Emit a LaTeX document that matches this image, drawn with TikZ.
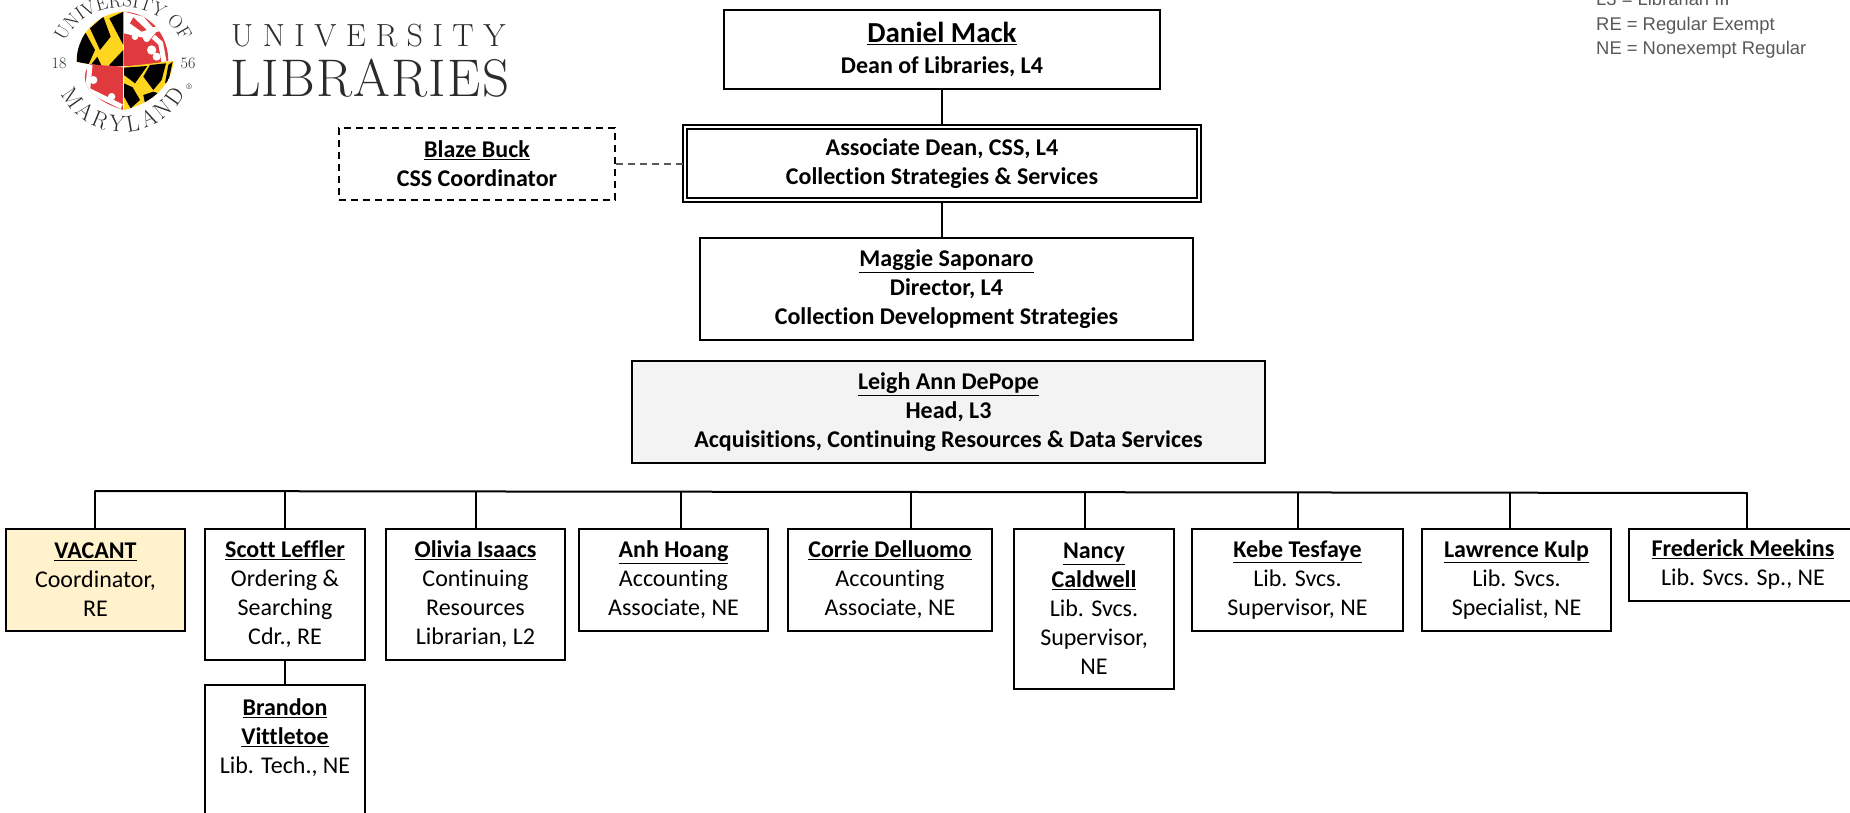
\documentclass[tikz,border=0pt]{standalone}
\usepackage{fontspec}
\usetikzlibrary{decorations.text}
\setmainfont[Ligatures=NoCommon]{Carlito}
\newfontfamily\legendfont{Liberation Sans}
\newfontfamily\logofont{Latin Modern Roman}
\newfontfamily\logospaced[LetterSpace=29.5]{Latin Modern Roman}
\newfontfamily\logotight[LetterSpace=2.3]{Latin Modern Roman}
\definecolor{legendgray}{HTML}{595959}
\definecolor{headfill}{HTML}{F3F3F3}
\definecolor{vacantfill}{HTML}{FFF2CC}
\definecolor{mdred}{HTML}{E03A3E}
\definecolor{mdgold}{HTML}{FFD520}
\definecolor{logoink}{HTML}{2B2B2B}
\newcommand{\nm}[1]{\textbf{\underline{#1}}}
\tikzset{
  x=1pt,y=-1pt,
  orgbox/.style={draw=black,line width=2pt,align=center,inner sep=0pt,font=\fontsize{24}{29}\selectfont,text=black},
  boldtext/.style={font=\fontsize{24}{29}\selectfont\bfseries},
  conn/.style={draw=black,line width=2pt},
  dashconn/.style={draw=legendgray,line width=1.6pt,dash pattern=on 7pt off 5pt},
  legend/.style={anchor=base west,inner sep=0pt,text=legendgray,font=\legendfont\fontsize{18.4}{24}\selectfont},
  sealtext/.style={inner sep=0pt,text=logoink,font=\logofont\fontsize{16}{16}\selectfont},
}
\newcommand{\bx}[6][]{\node[orgbox,minimum width=#4 pt-#3 pt,minimum height=#6 pt-#5 pt,#1] (#2) at ({(#3+#4)/2},{(#5+#6)/2})}
\begin{document}
\begin{tikzpicture}
\path[use as bounding box] (0,0) rectangle (1850,813);
\clip (0,0) rectangle (1850,813);
\fill[white] (0,0) rectangle (1850,813);
% logo seal, drawn in crop coordinates
\begin{scope}[shift={(40,0)},scale=1/3]
  % upper left
  \begin{scope}
    \clip (250,35) .. controls (170,40) and (110,105) .. (110,185) .. controls (150,195) and (200,198) .. (250,198) -- cycle;
    \fill[mdgold] (100,30) rectangle (250,200);
    \fill[black] (250,35) -- (208,55) -- (250,135) -- cycle;
    \fill[black] (190,50) -- (150,85) -- (180,150) -- (212,110) -- cycle;
    \fill[black] (135,95) -- (112,150) -- (110,190) -- (145,195) -- (165,150) -- cycle;
    \fill[black] (250,150) -- (205,198) -- (250,200) -- cycle;
    \fill[black] (172,170) -- (150,198) -- (185,198) -- cycle;
  \end{scope}
  % upper right
  \begin{scope}
    \clip (252,35) .. controls (330,38) and (385,105) .. (385,183) .. controls (340,192) and (300,198) .. (252,198) -- cycle;
    \fill[mdred] (252,30) rectangle (390,200);
    \fill[white] (252,35) -- (252,100) -- (330,118) -- (350,95) -- (310,50) -- cycle;
    \fill[mdred] (280,52) -- (320,90) -- (305,95) -- (270,70) -- cycle;
    \fill[white] (285,110) circle (10) (320,115) circle (11) (335,150) circle (14) (350,170) circle (12);
    \draw[white,line width=5pt] (335,90) -- (372,85);
    \draw[white,line width=5pt] (340,110) -- (362,130) -- (372,185);
  \end{scope}
  % lower left
  \begin{scope}
    \clip (250,200) -- (150,193) .. controls (120,225) and (125,290) .. (250,330) -- cycle;
    \fill[mdred] (100,190) rectangle (250,335);
    \fill[white] (145,200) circle (7) (160,240) circle (12) (170,285) circle (10) (215,290) circle (11);
    \draw[white,line width=5pt] (150,195) -- (143,270) -- (245,320);
  \end{scope}
  % lower right
  \begin{scope}
    \clip (252,200) -- (400,183) .. controls (398,250) and (340,310) .. (252,330) -- cycle;
    \fill[mdgold] (252,180) rectangle (405,335);
    \fill[black] (252,203) -- (322,198) -- (285,250) -- (252,225) -- cycle;
    \fill[black] (330,195) -- (378,190) -- (365,240) -- (340,270) -- (310,230) -- cycle;
    \fill[black] (252,250) -- (278,262) -- (300,300) -- (272,325) -- (252,290) -- cycle;
    \fill[black] (310,285) -- (340,275) -- (355,280) -- (315,310) -- cycle;
    \fill[black] (385,195) -- (398,185) -- (385,245) -- (375,250) -- cycle;
  \end{scope}
\end{scope}
\path[postaction={decorate,decoration={text along path,text align=fit to path,text={|\logofont\fontsize{19}{19}\selectfont\color{logoink}|UNIVERSITY OF}}}]
  plot[domain=158:22,samples=40] ({123+63*cos(\x)},{62-55*sin(\x)});
\path[postaction={decorate,decoration={text along path,text align=fit to path,text={|\logofont\fontsize{23}{23}\selectfont\color{logoink}|MARYLAND}}}]
  plot[domain=207:333,samples=40] ({123+70*cos(\x)},{62-70*sin(\x)});
\node[sealtext] (s18) at (59,63) {18};
\node[sealtext] (s56) at (188,63) {56};
\node[inner sep=0pt,text=logoink,font=\logofont\fontsize{8}{8}\selectfont] (reg) at (189,87) {®};
\node[inner sep=0pt,anchor=base west,text=logoink,font=\logospaced\fontsize{32}{32}\selectfont] (univ) at (231,47) {UNIVERSITY};
\node[inner sep=0pt,anchor=base west,text=logoink,font=\logotight\fontsize{53}{53}\selectfont] (libs) at (230,97) {LIBRARIES};
% legend
\node[legend] (l3) at (1596,6) {L3 = Librarian III};
\node[legend] (re) at (1596,30.5) {RE = Regular Exempt};
\node[legend] (ne) at (1596,55) {NE = Nonexempt Regular};
% top boxes
\bx{dean}{724}{1160}{10}{89} {\fontsize{29}{33}\selectfont\nm{Daniel Mack}\\[2pt]\fontsize{24}{29}\selectfont\bfseries Dean of Libraries, L4};
\bx[double=white,line width=1.3pt,double distance=2.5pt,boldtext]{assoc}{685}{1199}{127}{200} {Associate Dean, CSS, L4\\Collection Strategies \& Services};
\bx[boldtext,dash pattern=on 7pt off 5pt]{blaze}{339}{615}{128}{200} {\underline{Blaze Buck}\\CSS Coordinator};
\bx[boldtext]{maggie}{700}{1193}{238}{340} {\underline{Maggie Saponaro}\\Director, L4\\Collection Development Strategies};
\bx[boldtext,fill=headfill]{leigh}{632}{1265}{361}{463} {\underline{Leigh Ann DePope}\\Head, L3\\Acquisitions, Continuing Resources \& Data Services};
% bottom row
\bx[fill=vacantfill]{vacant}{6}{185}{529}{631} {\nm{VACANT}\\Coordinator,\\RE};
\bx{scott}{205}{365}{529}{660} {\nm{Scott Leffler}\\Ordering \&\\Searching\\Cdr., RE};
\bx{olivia}{386}{565}{529}{660} {\nm{Olivia Isaacs}\\Continuing\\Resources\\Librarian, L2};
\bx{anh}{579}{768}{529}{631} {\nm{Anh Hoang}\\Accounting\\Associate, NE};
\bx{corrie}{788}{992}{529}{631} {\nm{Corrie Delluomo}\\Accounting\\Associate, NE};
\bx{nancy}{1014}{1174}{529}{689} {\nm{Nancy}\\\nm{Caldwell}\\Lib. Svcs.\\Supervisor,\\NE};
\bx{kebe}{1192}{1403}{529}{631} {\nm{Kebe Tesfaye}\\Lib. Svcs.\\Supervisor, NE};
\bx{lawrence}{1422}{1611}{529}{631} {\nm{Lawrence Kulp}\\Lib. Svcs.\\Specialist, NE};
\bx{frederick}{1629}{1857}{529}{601} {\nm{Frederick Meekins}\\Lib. Svcs. Sp., NE};
\bx{brandon}{205}{365}{685}{817} {\nm{Brandon}\\\nm{Vittletoe}\\Lib. Tech., NE\\\mbox{}};
% connectors
\draw[conn] (dean.south) -- (assoc.north);
\draw[conn] (assoc.south) -- (assoc.south |- maggie.north);
\draw[dashconn] (blaze.east) -- (blaze.east -| assoc.west);
\draw[conn] (scott.south) -- (brandon.north);
\coordinate (busL) at (95,491);
\coordinate (busR) at (1747,493);
\draw[conn,line cap=round] (busL) -- (busR);
\foreach \n/\px/\py in {vacant/95/491,scott/285/491.3,olivia/476/491.5,anh/681/491.8,corrie/911/492,nancy/1085/492.3,kebe/1298/492.5,lawrence/1510/492.8,frederick/1747/493}{
  \coordinate (drop-\n) at (\px,\py);
  \draw[conn] (drop-\n) -- (drop-\n |- \n.north);
}
\end{tikzpicture}
\end{document}
